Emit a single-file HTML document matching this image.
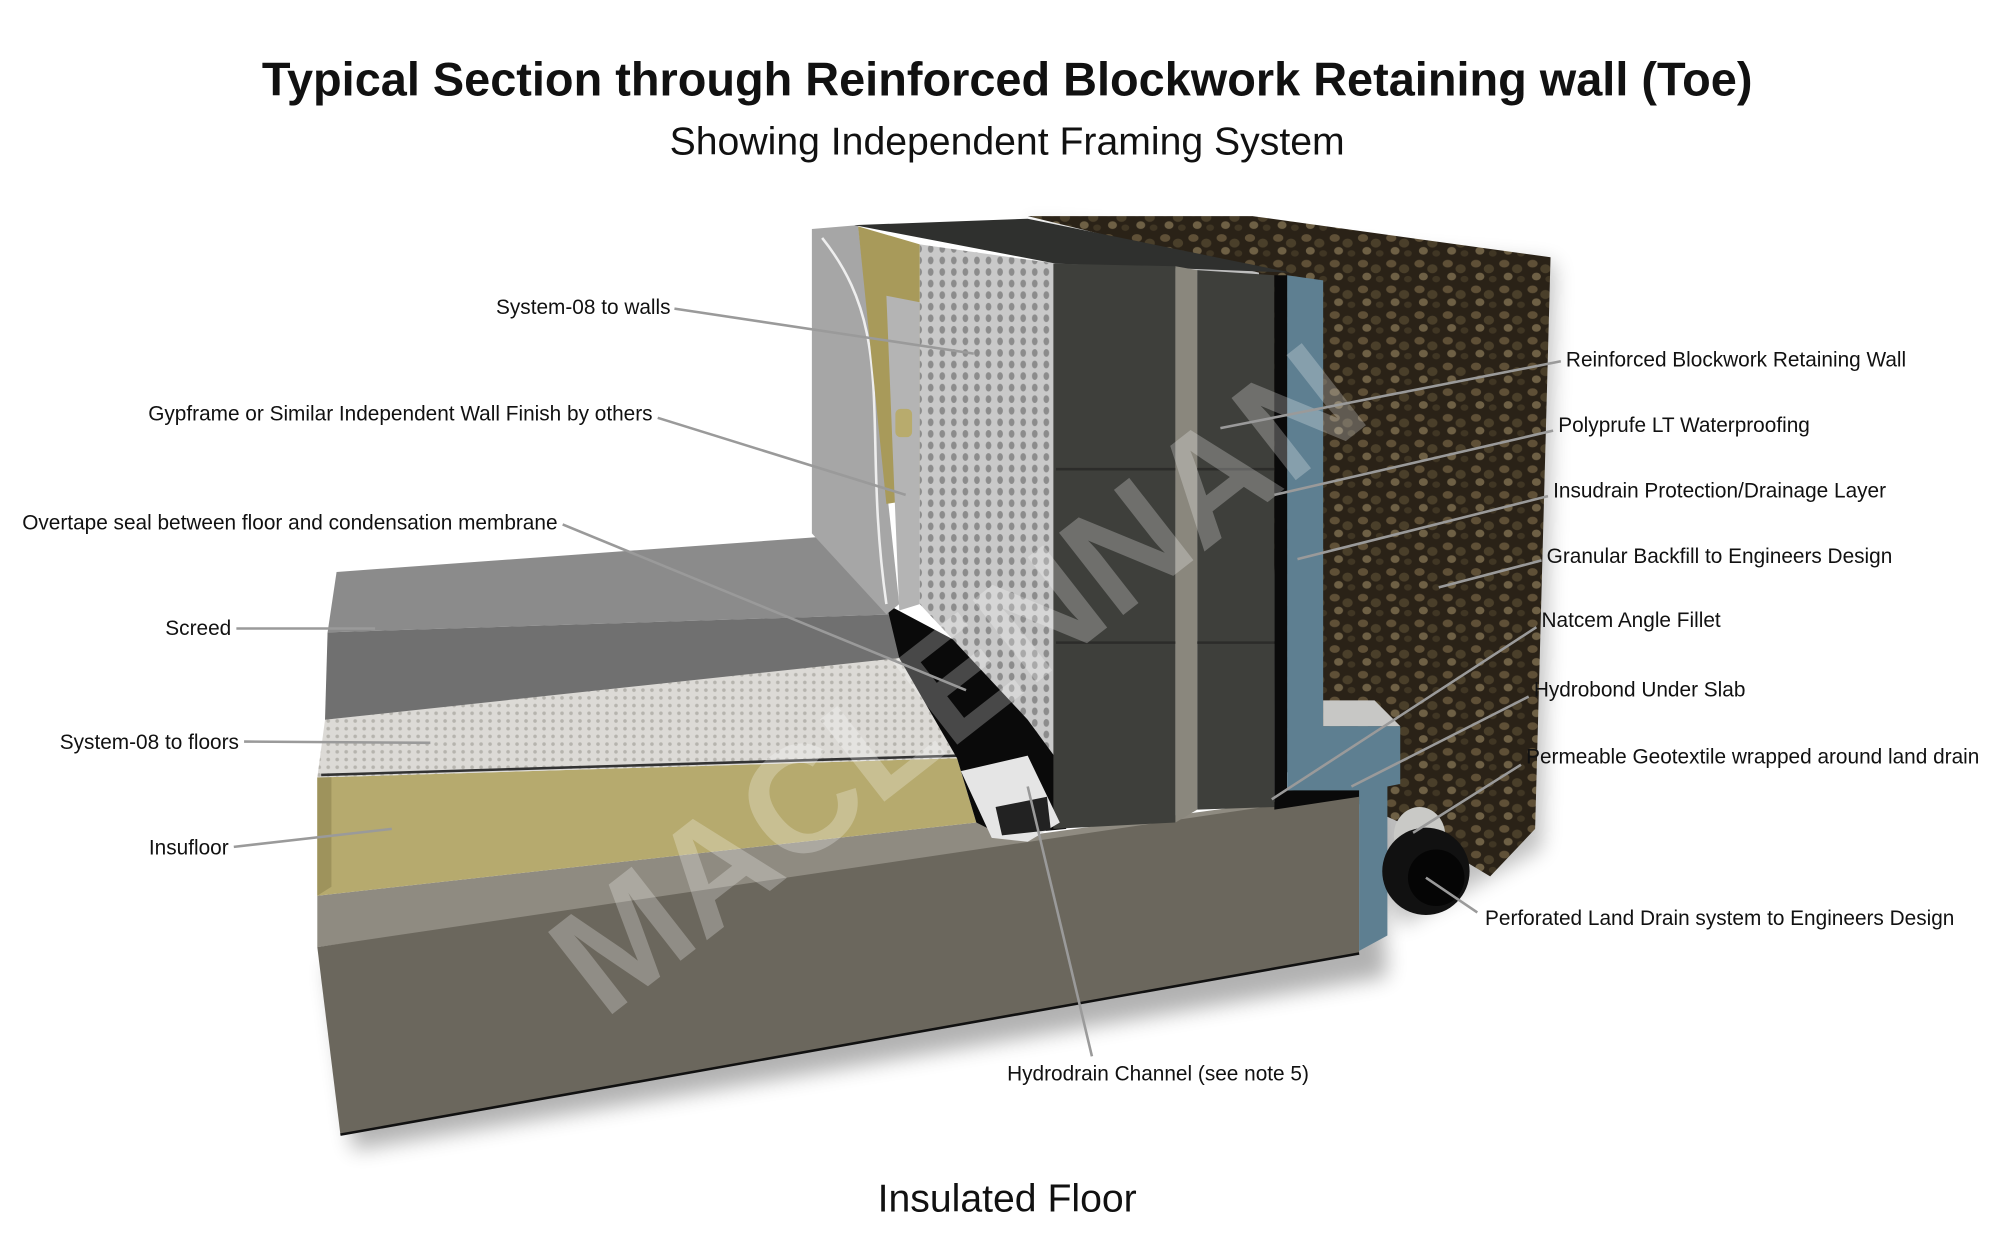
<!DOCTYPE html>
<html><head><meta charset="utf-8">
<style>
html,body{margin:0;padding:0;background:#fff;}
svg{display:block;}
text{font-family:"Liberation Sans",sans-serif;fill:#111;}
</style></head>
<body>
<svg width="2013" height="1248" viewBox="0 0 1567 971" xmlns="http://www.w3.org/2000/svg">
<defs>
<pattern id="dots" width="9" height="9" patternUnits="userSpaceOnUse">
<rect width="9" height="9" fill="#c9c9c9"/><ellipse cx="4.5" cy="4.5" rx="2.2" ry="3" fill="#8c8c8c"/>
</pattern>
<pattern id="fdots" width="7" height="6" patternUnits="userSpaceOnUse">
<rect width="7" height="6" fill="#dcdad6"/><circle cx="3.5" cy="3" r="1.4" fill="#b6b4ae"/>
</pattern>
<pattern id="gravel" width="22" height="20" patternUnits="userSpaceOnUse">
<rect width="22" height="20" fill="#2a2217"/>
<ellipse cx="5" cy="5" rx="4" ry="3" fill="#5f5037"/>
<ellipse cx="15" cy="9" rx="4" ry="3.5" fill="#4a3f2a"/>
<ellipse cx="8" cy="15" rx="3.5" ry="3" fill="#6e6045"/>
<ellipse cx="18" cy="17" rx="3" ry="2.5" fill="#403624"/>
</pattern>
<filter id="sh" x="-10%" y="-10%" width="130%" height="130%"><feGaussianBlur stdDeviation="8"/></filter>
</defs>

<text x="784" y="74" text-anchor="middle" font-size="36.5" font-weight="bold">Typical Section through Reinforced Blockwork Retaining wall (Toe)</text>
<text x="784" y="120" text-anchor="middle" font-size="30.5">Showing Independent Framing System</text>
<text x="784" y="943" text-anchor="middle" font-size="30.5">Insulated Floor</text>

<!-- shadow -->
<polygon points="255,750 1070,630 1080,760 275,895" fill="#000" opacity="0.3" filter="url(#sh)"/>
<polygon points="800,175 1210,205 1200,660 1090,720" fill="#000" opacity="0.25" filter="url(#sh)"/>

<!-- gravel block -->
<polygon points="800,168 975,168 1207,200 1195,645 1160,682 1090,640 1000,600 980,212" fill="url(#gravel)"/>

<!-- slab -->
<polygon points="247,697 760,640 800,650 1058,615 1058,628 247,737" fill="#8f8b81"/>
<polygon points="247,737 1058,617 1058,742 265,883" fill="#6b675d"/>
<polyline points="265,883 1058,742" stroke="#111" stroke-width="2" fill="none"/>

<!-- insufloor -->
<polygon points="247,605 745,590 760,640 247,697" fill="#b6aa6e"/>
<polygon points="247,605 258,600 258,690 247,697" fill="#9e935c"/>
<!-- system08 floor -->
<polygon points="253,560 700,510 745,590 247,605" fill="url(#fdots)"/>
<line x1="250" y1="603" x2="745" y2="588" stroke="#333" stroke-width="2"/>
<!-- screed -->
<polygon points="262,445 635,418 697,478 255,492" fill="#8b8b8b"/>
<polygon points="255,492 697,478 700,512 253,560" fill="#707070"/>
<!-- black corner -->
<polygon points="690,470 822,540 830,645 780,650 760,640 745,590 700,512" fill="#0a0a0a"/>

<!-- wall finish panel -->
<polygon points="632,178 668,175 700,470 690,478 632,415" fill="#a6a6a6"/>
<path d="M640,185 C700,260 670,330 690,470" stroke="#eee" stroke-width="2" fill="none"/>
<polygon points="668,176 716,190 716,388 690,392" fill="#a89a5a"/>
<polygon points="690,230 716,235 716,470 700,475" fill="#b4b4b4"/>
<rect x="697" y="318" width="13" height="22" rx="4" fill="#b8ab6d"/>
<!-- dimple membrane -->
<polygon points="716,190 822,205 822,590 800,560 716,470" fill="url(#dots)"/>

<!-- wall top -->
<polygon points="665,175 800,170 1005,212 822,205" fill="#2f302e"/>
<!-- blocks -->
<polygon points="820,205 915,207 915,640 820,645" fill="#3e3f3b"/>
<line x1="822" y1="365" x2="915" y2="365" stroke="#2c2c2a" stroke-width="2"/>
<line x1="822" y1="500" x2="915" y2="500" stroke="#2c2c2a" stroke-width="2"/>
<polygon points="915,207 932,210 932,630 915,640" fill="#8a877d"/>
<polygon points="932,210 992,214 992,628 932,630" fill="#3e3f3b"/>
<line x1="932" y1="365" x2="992" y2="365" stroke="#2c2c2a" stroke-width="2"/>
<line x1="932" y1="500" x2="992" y2="500" stroke="#2c2c2a" stroke-width="2"/>
<!-- black waterproofing -->
<polygon points="992,214 1002,214 1002,615 1058,612 1058,620 992,630" fill="#0a0a0a"/>
<!-- blue insudrain -->
<polygon points="1002,214 1030,218 1030,565 1090,565 1090,610 1080,612 1080,728 1058,740 1058,615 1002,615" fill="#5e7f91"/>
<polygon points="1030,545 1070,545 1090,565 1030,565" fill="#c7c7c5"/>

<!-- channel -->
<polygon points="748,600 800,588 825,640 800,655 772,652" fill="#e5e5e5"/>
<polygon points="775,628 815,620 818,646 780,650" fill="#222"/>

<!-- drain pipe -->
<ellipse cx="1105" cy="650" rx="20" ry="22" fill="#c9c9c6"/>
<circle cx="1110" cy="678" r="34" fill="#111"/>
<circle cx="1118" cy="683" r="22" fill="#050505"/>

<!-- watermark -->
<text x="770" y="560" text-anchor="middle" font-size="118" font-weight="bold" opacity="0.25" transform="rotate(-38 770 560)" style="fill:#ffffff">MACLENNAN</text>

<!-- leader lines -->
<g stroke="#9a9a9a" stroke-width="2" fill="none">
<line x1="525" y1="240" x2="758" y2="275"/>
<line x1="512" y1="325" x2="705" y2="385"/>
<line x1="438" y1="408" x2="752" y2="537"/>
<line x1="184" y1="489" x2="292" y2="489"/>
<line x1="190" y1="577" x2="335" y2="578"/>
<line x1="182" y1="659" x2="305" y2="645"/>
<line x1="1215" y1="281" x2="950" y2="333"/>
<line x1="1209" y1="335" x2="992" y2="385"/>
<line x1="1205" y1="386" x2="1010" y2="435"/>
<line x1="1200" y1="436" x2="1120" y2="457"/>
<line x1="1196" y1="488" x2="990" y2="622"/>
<line x1="1190" y1="542" x2="1052" y2="612"/>
<line x1="1184" y1="595" x2="1100" y2="648"/>
<line x1="1150" y1="710" x2="1110" y2="683"/>
<line x1="850" y1="822" x2="800" y2="612"/>
</g>

<g font-size="16.2">
<text x="522" y="244" text-anchor="end">System-08 to walls</text>
<text x="508" y="327" text-anchor="end">Gypframe or Similar Independent Wall Finish by others</text>
<text x="434" y="412" text-anchor="end">Overtape seal between floor and condensation membrane</text>
<text x="180" y="494" text-anchor="end">Screed</text>
<text x="186" y="583" text-anchor="end">System-08 to floors</text>
<text x="178" y="665" text-anchor="end">Insufloor</text>
<text x="1219" y="285">Reinforced Blockwork Retaining Wall</text>
<text x="1213" y="336">Polyprufe LT Waterproofing</text>
<text x="1209" y="387">Insudrain Protection/Drainage Layer</text>
<text x="1204" y="438">Granular Backfill to Engineers Design</text>
<text x="1200" y="488">Natcem Angle Fillet</text>
<text x="1194" y="542">Hydrobond Under Slab</text>
<text x="1188" y="594">Permeable Geotextile wrapped around land drain</text>
<text x="1156" y="720">Perforated Land Drain system to Engineers Design</text>
<text x="784" y="841">Hydrodrain Channel (see  note 5)</text>
</g>
</svg>
</body></html>
